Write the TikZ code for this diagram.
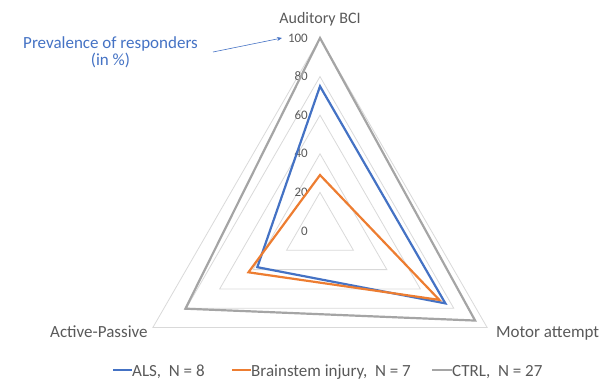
\documentclass[tikz,border=0pt]{standalone}
\usepackage{fontspec}
\setmainfont{Carlito}
\usetikzlibrary{arrows.meta,calc}
\definecolor{gridc}{HTML}{D9D9D9}
\definecolor{txtc}{HTML}{595959}
\definecolor{alsc}{HTML}{4472C4}
\definecolor{bsc}{HTML}{ED7D31}
\definecolor{ctrlc}{HTML}{A5A5A5}
\tikzset{
  gridline/.style={draw=gridc,line width=0.8pt,line join=miter},
  series/.style={line width=2.2pt,line join=miter},
  ticklab/.style={text=txtc,font=\fontsize{13}{15}\selectfont,anchor=east,inner sep=0pt},
  axlab/.style={text=txtc,font=\fontsize{17}{19}\selectfont,inner sep=0pt},
  leglab/.style={text=txtc,font=\fontsize{17}{19}\selectfont,anchor=base west,inner sep=0pt},
  annot/.style={text=alsc,font=\fontsize{17}{19}\selectfont,anchor=base,inner sep=0pt},
}
\begin{document}
\begin{tikzpicture}[x=1pt,y=1pt]
\useasboundingbox (0,0) rectangle (600,381);
\coordinate (C) at (320,150);
% grid triangles
\foreach \l in {20,40,60,80,100}{
  \draw[gridline] ([shift={(C)}]90:{\l*1.93}) -- ([shift={(C)}]-30:{\l*1.93}) -- ([shift={(C)}]210:{\l*1.93}) -- cycle;
}
% tick labels
\foreach \l in {0,20,40,60,80,100}{
  \node[ticklab] (t\l) at ([shift={(C)}]90:{\l*1.93}) [xshift=-12pt] {\l};
}
% CTRL
\draw[series,draw=ctrlc] ([shift={(C)}]90:{100*1.93}) -- ([shift={(C)}]-30:{92.8*1.93}) -- ([shift={(C)}]210:{80.5*1.93}) -- cycle;
% ALS
\draw[series,draw=alsc] ([shift={(C)}]90:{75*1.93}) -- ([shift={(C)}]-30:{75*1.93}) -- ([shift={(C)}]210:{37.5*1.93}) -- cycle;
% Brainstem
\draw[series,draw=bsc] ([shift={(C)}]90:{29*1.93}) -- ([shift={(C)}]-30:{71.4*1.93}) -- ([shift={(C)}]210:{42.8*1.93}) -- cycle;
% axis labels
\node[axlab,font=\fontsize{16}{18}\selectfont,anchor=base] (aud) at (320,357) {Auditory BCI};
\node[axlab,anchor=base west] (act) at (50,44) {Active-Passive};
\node[axlab,anchor=base west] (mot) at (496,44) {Motor attempt};
% annotation
\node[annot] (ann1) at (110.5,332) {Prevalence of responders};
\node[annot] (ann2) at (110.5,315) {(in \%)};
\coordinate (a1) at (213,329);
\coordinate (a2) at (282,343);
\draw[alsc,line width=0.6pt,-{Stealth[length=5pt,width=4pt]}] (a1) -- (a2);
% legend
\coordinate (l1a) at (113,11); \coordinate (l1b) at (132,11);
\coordinate (l2a) at (232,11); \coordinate (l2b) at (251,11);
\coordinate (l3a) at (432,11); \coordinate (l3b) at (452,11);
\draw[alsc,line width=2.2pt] (l1a) -- (l1b);
\draw[bsc,line width=2.2pt] (l2a) -- (l2b);
\draw[ctrlc,line width=2.2pt] (l3a) -- (l3b);
\node[leglab] (g1) at (132,5) {ALS,\ \ N = 8};
\node[leglab] (g2) at (251,5) {Brainstem injury,\ \ N = 7};
\node[leglab] (g3) at (452,5) {CTRL,\ \ N = 27};
\end{tikzpicture}
\end{document}
